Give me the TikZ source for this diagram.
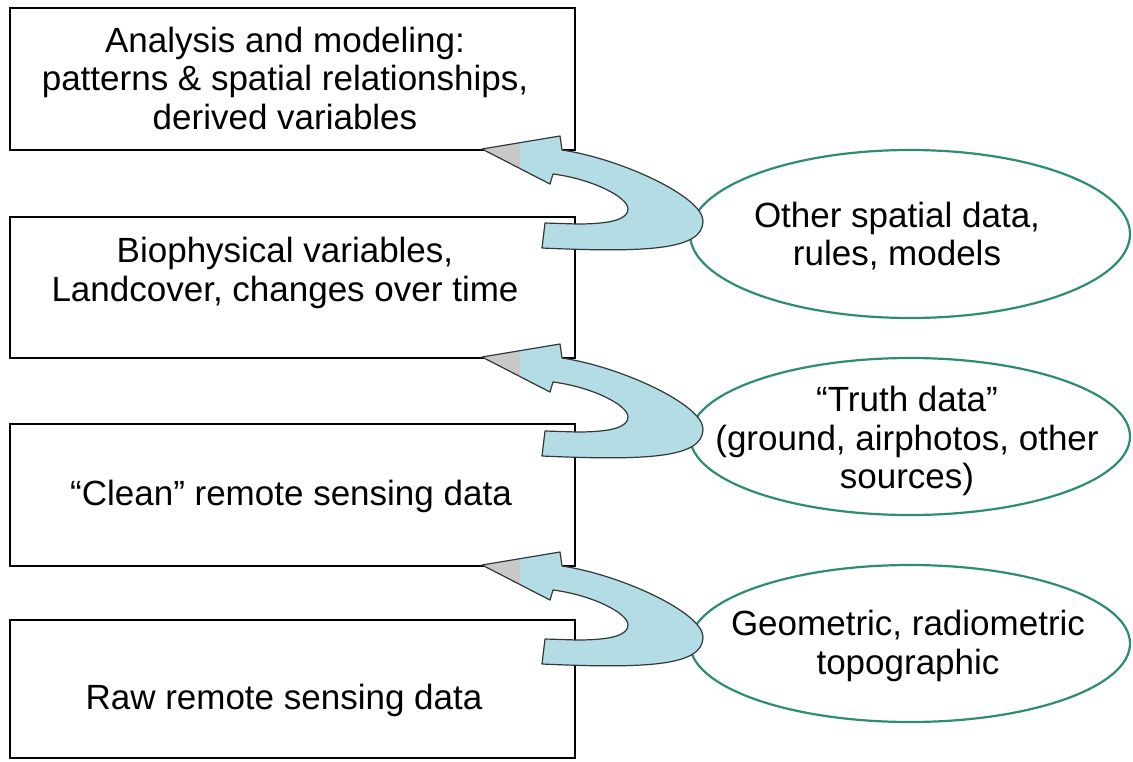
\documentclass[tikz,border=0pt]{standalone}
\usepackage{fontspec}
\setmainfont{Liberation Sans}
\usetikzlibrary{shapes.geometric,calc}
\definecolor{arrowblue}{RGB}{180,220,228}
\definecolor{arrowgray}{RGB}{200,200,200}
\definecolor{arrowline}{RGB}{50,55,55}
\definecolor{sourcegreen}{RGB}{45,140,115}
\tikzset{
  stagebox/.style={draw=black, line width=2.5pt, rectangle, fill=white,
    inner sep=0pt, outer sep=0pt},
  sourceoval/.style={draw=sourcegreen, line width=2.2pt, ellipse,
    inner sep=0pt, outer sep=0pt},
  txt/.style={align=center, inner sep=0pt,
    font=\fontsize{35}{38.5}\selectfont},
  % curved feedback arrow, origin at the arrow tip, y pointing down
  uturn/.pic={
    \def\uturnpath{(0,0) -- (78,-13) -- (80,1)
      .. controls (140,10) and (221,48) .. (221,72)
      .. controls (221,100) and (170,104) .. (60,99)
      -- (63,74) -- (95,75)
      .. controls (130,75) and (146,70) .. (146,60)
      .. controls (146,48) and (110,30) .. (71,25)
      -- (68,35) -- cycle}
    \fill[arrowblue] \uturnpath;
    \fill[arrowgray] (0,0) -- (38,-6.3) -- (38,19.6) -- cycle;
    \draw[arrowline, line width=1.2pt, line join=round] \uturnpath;
  }
}
\begin{document}
\begin{tikzpicture}[x=1pt, y=-1pt]
\useasboundingbox[fill=white] (0,0) rectangle (1133,761);

% processing stages
\node[stagebox, minimum width=565pt, minimum height=142pt] (b1) at (292.5,79) {};
\node[stagebox, minimum width=565pt, minimum height=141pt] (b2) at (292.5,287.5) {};
\node[stagebox, minimum width=565pt, minimum height=142pt] (b3) at (292.5,495) {};
\node[stagebox, minimum width=565pt, minimum height=138pt] (b4) at (292.5,689) {};

\node[txt] (t1) at (285,78) {Analysis and modeling:\\patterns \& spatial relationships,\\derived variables};
\node[txt] (t2) at (285,273) {Biophysical variables,\\Landcover, changes over time};
\node[txt] (t3) at (291,496) {“Clean” remote sensing data};
\node[txt] (t4) at (284,700) {Raw remote sensing data};

% auxiliary inputs
\node[sourceoval, minimum width=440pt, minimum height=168pt] (e1) at (910,234) {};
\node[sourceoval, minimum width=440pt, minimum height=157pt] (e2) at (910,436.5) {};
\node[sourceoval, minimum width=440pt, minimum height=157pt] (e3) at (910,643.5) {};

\node[txt] (s1) at (897,236) {Other spatial data,\\rules, models};
\node[txt] (s2) at (907,441) {“Truth data”\\(ground, airphotos, other\\sources)};
\node[txt] (s3) at (908,646) {Geometric, radiometric\\topographic};

% feedback arrows from each stage up to the next
\pic at ($(b1.south west)+(472,-1)$) {uturn};
\pic at ($(b2.south west)+(472,-1)$) {uturn};
\pic at ($(b3.south west)+(472,-1)$) {uturn};
\end{tikzpicture}
\end{document}
